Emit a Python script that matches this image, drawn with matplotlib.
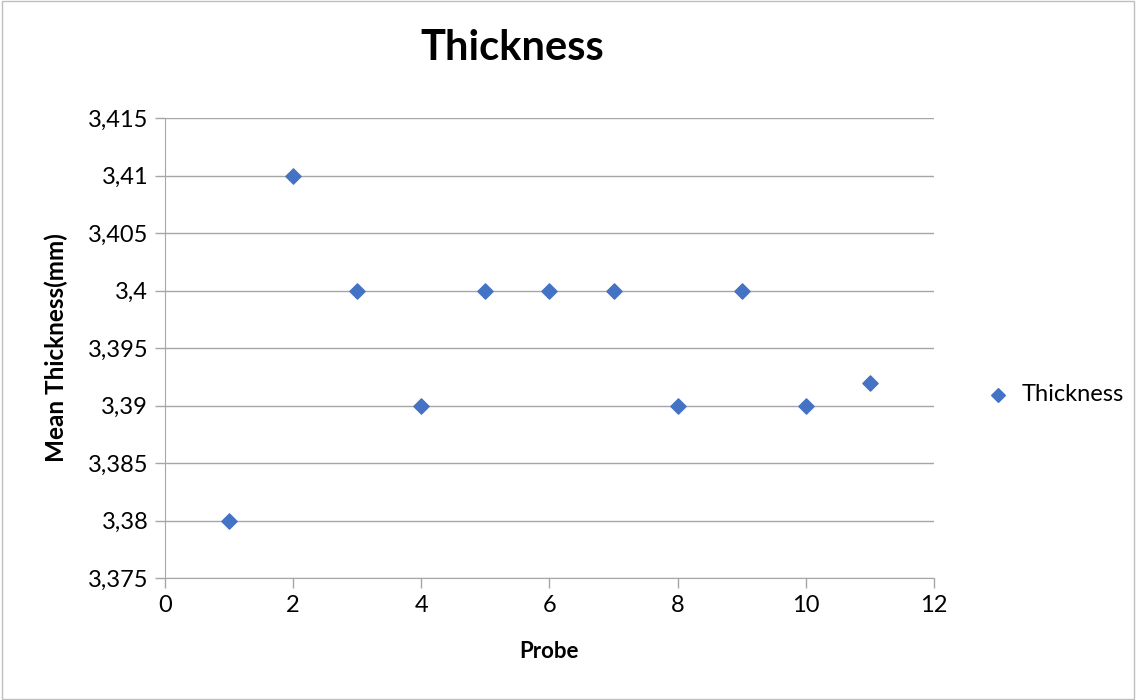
import numpy as np
import matplotlib
matplotlib.use("Agg")
import matplotlib.pyplot as plt
from matplotlib.ticker import FuncFormatter, MultipleLocator
from matplotlib.patches import Rectangle

# Dados
probe = [1, 2, 3, 4, 5, 6, 7, 8, 9, 10, 11]
thickness = [3.38, 3.41, 3.40, 3.39, 3.40, 3.40, 3.40, 3.39, 3.40, 3.39, 3.392]

plt.rcParams['font.family'] = ['Lato', 'DejaVu Sans']

fig = plt.figure(figsize=(11.36, 7), dpi=100)
ax = fig.add_axes([0.1452, 0.1743, 0.677, 0.657])

ax.scatter(probe, thickness, marker="D", s=60, color="#4472C4", label="Thickness", zorder=3)

ax.set_xlim(0, 12)
ax.set_ylim(3.375, 3.415)
ax.xaxis.set_major_locator(MultipleLocator(2))
ax.yaxis.set_major_locator(MultipleLocator(0.005))

virgula = FuncFormatter(lambda v, p: f"{round(v, 4):g}".replace(".", ","))
ax.yaxis.set_major_formatter(virgula)

ax.grid(axis="y", color="#a6a6a6", linewidth=1)
ax.set_axisbelow(True)
for lado in ["top", "right"]:
    ax.spines[lado].set_visible(False)
ax.spines["left"].set_color("#a6a6a6")
ax.spines["bottom"].set_color("#a6a6a6")
ax.tick_params(axis="both", colors="#a6a6a6", labelcolor="black", labelsize=17, length=7, width=1)
ax.tick_params(axis="x", pad=5)
ax.tick_params(axis="y", pad=5)

ax.set_title("Thickness", fontsize=30, fontweight="bold", pad=42, x=0.452)
ax.set_xlabel("Probe", fontsize=16, fontweight="bold", labelpad=18)
ax.set_ylabel("Mean Thickness(mm)", fontsize=17.5, fontweight="bold", labelpad=14)

ax.legend(loc="center left", bbox_to_anchor=(1.025, 0.398), frameon=False, fontsize=17,
          handletextpad=0.0, markerscale=0.9)

fig.patches.append(Rectangle((0.002, 0.002), 0.996, 0.996, transform=fig.transFigure,
                             fill=False, edgecolor="#bfbfbf", linewidth=1))

fig.savefig("out.png", dpi=100)
